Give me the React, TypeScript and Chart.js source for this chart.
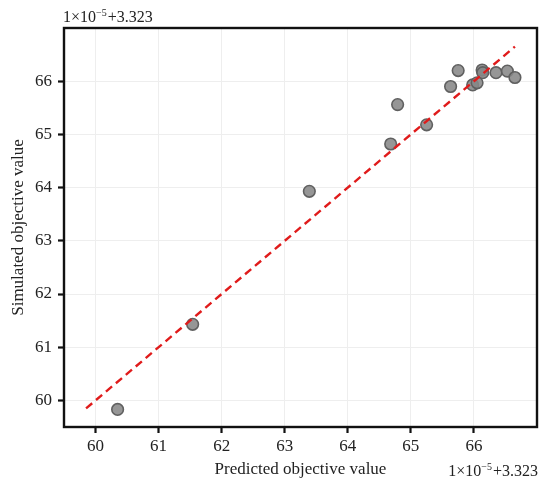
import React, { useEffect, useRef } from "react";
import { Chart, registerables } from "chart.js";

Chart.register(...registerables);

const predicted = [60.35, 61.54, 63.39, 64.68, 64.79, 65.25, 65.63, 65.75, 65.98, 66.05, 66.13, 66.14, 66.35, 66.53, 66.65];
const simulated = [59.83, 61.43, 63.93, 64.82, 65.56, 65.18, 65.9, 66.2, 65.93, 65.97, 66.21, 66.16, 66.16, 66.19, 66.07];
const fitLine = [59.85, 66.65];
const xTicks = [60, 61, 62, 63, 64, 65, 66];
const yTicks = [60, 61, 62, 63, 64, 65, 66];
const axisRange = [59.5, 67.0];
const xTitle = "Predicted objective value";
const yTitle = "Simulated objective value";
const offsetBase = "1×10";
const offsetExp = "−5";
const offsetTail = "+3.323";

const FONT = "'Liberation Serif', 'Times New Roman', serif";

function drawOffset(ctx: CanvasRenderingContext2D, x: number, y: number, align: "left" | "right") {
  ctx.save();
  ctx.fillStyle = "#222";
  ctx.textBaseline = "alphabetic";
  ctx.textAlign = "left";
  const big = `16px ${FONT}`;
  const small = `10px ${FONT}`;
  ctx.font = big;
  const w1 = ctx.measureText(offsetBase).width;
  const w3 = ctx.measureText(offsetTail).width;
  ctx.font = small;
  const w2 = ctx.measureText(offsetExp).width;
  const total = w1 + w2 + w3 + 1;
  let sx = align === "left" ? x : x - total;
  ctx.font = big;
  ctx.fillText(offsetBase, sx, y);
  sx += w1;
  ctx.font = small;
  ctx.fillText(offsetExp, sx, y - 6);
  sx += w2 + 1;
  ctx.font = big;
  ctx.fillText(offsetTail, sx, y);
  ctx.restore();
}

const framePlugin = {
  id: "frameAndTitles",
  afterDraw(chart: any) {
    const { ctx, chartArea } = chart;
    const { left, right, top, bottom } = chartArea;
    ctx.save();
    ctx.strokeStyle = "#111";
    ctx.lineWidth = 2.4;
    ctx.strokeRect(left, top, right - left, bottom - top);
    ctx.fillStyle = "#222";
    ctx.font = `17px ${FONT}`;
    ctx.textAlign = "center";
    ctx.textBaseline = "middle";
    ctx.fillText(xTitle, (left + right) / 2, 470);
    ctx.save();
    ctx.translate(19, (top + bottom) / 2);
    ctx.rotate(-Math.PI / 2);
    ctx.fillText(yTitle, 0, 0);
    ctx.restore();
    ctx.restore();
    drawOffset(ctx, left - 1, 22, "left");
    drawOffset(ctx, right + 1, 476, "right");
  },
};

export default function App() {
  const ref = useRef<HTMLCanvasElement | null>(null);
  useEffect(() => {
    if (!ref.current) return;
    const chart = new Chart(ref.current, {
      type: "scatter",
      data: {
        datasets: [
          {
            type: "line",
            data: fitLine.map((v) => ({ x: v, y: v })),
            borderColor: "#e01b1b",
            borderWidth: 2.4,
            borderDash: [8, 5],
            pointRadius: 0,
            fill: false,
          } as any,
          {
            data: predicted.map((x, i) => ({ x, y: simulated[i] })),
            backgroundColor: "rgba(135,135,135,0.88)",
            borderColor: "#606060",
            borderWidth: 1.6,
            pointRadius: 5.8,
          },
        ],
      },
      options: {
        animation: false,
        responsive: false,
        devicePixelRatio: 1,
        layout: { padding: { top: 28, right: 13, left: 0, bottom: 0 } },
        plugins: { legend: { display: false }, tooltip: { enabled: false } },
        scales: {
          x: {
            type: "linear",
            min: axisRange[0],
            max: axisRange[1],
            afterBuildTicks: (s: any) => {
              s.ticks = xTicks.map((v) => ({ value: v }));
            },
            afterFit: (s: any) => {
              s.height = 65;
            },
            grid: { color: "#eeeeee", lineWidth: 1, tickColor: "#111", tickLength: 6, tickWidth: 2.2 } as any,
            border: { display: false },
            ticks: { color: "#222", font: { family: FONT, size: 17 }, padding: 3 },
          },
          y: {
            type: "linear",
            min: axisRange[0],
            max: axisRange[1],
            afterBuildTicks: (s: any) => {
              s.ticks = yTicks.map((v) => ({ value: v }));
            },
            afterFit: (s: any) => {
              s.width = 64;
            },
            grid: { color: "#eeeeee", lineWidth: 1, tickColor: "#111", tickLength: 6, tickWidth: 2.2 } as any,
            border: { display: false },
            ticks: { color: "#222", font: { family: FONT, size: 17 }, padding: 6 },
          },
        },
      },
      plugins: [framePlugin],
    });
    return () => chart.destroy();
  }, []);
  return (
    <div style={{ position: "absolute", left: 0, top: 0, width: 550, height: 492, background: "#fff" }}>
      <canvas ref={ref} width={550} height={492} style={{ width: 550, height: 492, display: "block" }} />
    </div>
  );
}
